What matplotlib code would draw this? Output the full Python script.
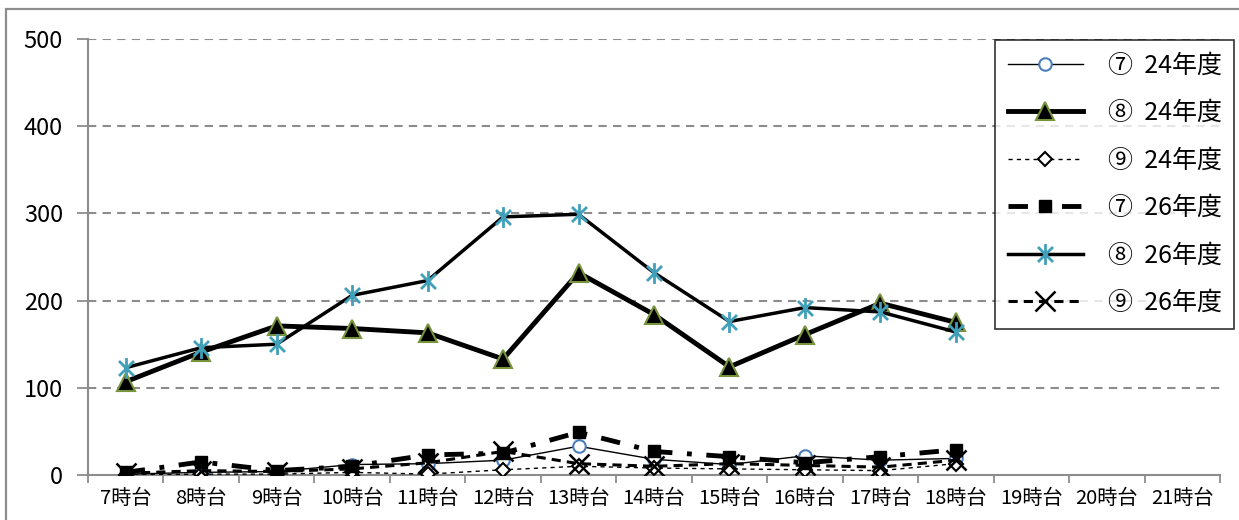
import matplotlib
matplotlib.use("Agg")
import matplotlib.pyplot as plt
from matplotlib.path import Path
from matplotlib.patches import Rectangle
import numpy as np

plt.rcParams['font.family'] = ['Noto Sans CJK JP', 'DejaVu Sans']

categories = ['7時台', '8時台', '9時台', '10時台', '11時台', '12時台', '13時台',
              '14時台', '15時台', '16時台', '17時台', '18時台', '19時台', '20時台', '21時台']

labels = ['⑦  24年度', '⑧  24年度', '⑨  24年度', '⑦  26年度', '⑧  26年度', '⑨  26年度']

s7_24 = [1, 3, 4, 12, 13, 17, 33, 18, 12, 22, 17, 19]
s8_24 = [107, 141, 171, 168, 163, 133, 232, 184, 124, 161, 197, 175]
s9_24 = [0, 1, 1, 3, 1, 6, 10, 8, 7, 6, 5, 13]
s7_26 = [3, 15, 5, 10, 23, 25, 49, 27, 21, 14, 21, 29]
s8_26 = [123, 146, 150, 206, 223, 296, 299, 232, 176, 192, 187, 164]
s9_26 = [2, 5, 4, 7, 14, 27, 13, 10, 13, 11, 9, 17]

y_ticks = [0, 100, 200, 300, 400, 500]

W, H = 1239, 520
fig = plt.figure(figsize=(W / 100, H / 100), dpi=100)
ax = fig.add_axes([88 / W, 1 - 475 / H, (1220 - 88) / W, (475 - 39) / H])

# outer chart-area frame
fig.patches.append(Rectangle((6 / W, -0.2), 1.2, 1.2 - 9 / H, transform=fig.transFigure,
                             fill=False, edgecolor='#8c8c8c', linewidth=1.6, zorder=0))

x = np.arange(len(s7_24))

asterisk = Path([(0, -1), (0, 1), (-0.72, -0.72), (0.72, 0.72), (-0.72, 0.72), (0.72, -0.72)],
                [Path.MOVETO, Path.LINETO, Path.MOVETO, Path.LINETO, Path.MOVETO, Path.LINETO])

ax.plot(x, s7_24, color='black', lw=1.0, marker='o', ms=9, mfc='white', mec='#4A7EBB', mew=1.5,
        label=labels[0], zorder=3)
ax.plot(x, s8_24, color='black', lw=3.5, marker='^', ms=13, mfc='black', mec='#77933C', mew=1.5,
        label=labels[1], zorder=3)
ax.plot(x, s9_24, color='black', lw=1.0, ls=(0, (3, 3)), marker='D', ms=7, mfc='white', mec='black',
        mew=1.5, label=labels[2], zorder=3)
ax.plot(x, s7_26, color='black', lw=3.5, ls=(0, (4, 3, 1, 3)), marker='s', ms=9, mfc='black', mec='black',
        label=labels[3], zorder=3)
ax.plot(x, s8_26, color='black', lw=2.5, marker=asterisk, ms=15, mfc='none', mec='#40A0BA', mew=2.0,
        label=labels[4], zorder=3)
ax.plot(x, s9_26, color='black', lw=2.2, ls=(0, (3, 2)), marker='x', ms=14, mec='black', mew=1.8,
        label=labels[5], zorder=3)

ax.set_xlim(-0.5, len(categories) - 0.5)
ax.set_ylim(0, 500)
ax.set_xticks(np.arange(len(categories)))
ax.set_xticklabels(categories, fontsize=14.5)
ax.set_xticks(np.arange(len(categories) + 1) - 0.5, minor=True)
ax.tick_params(axis='x', which='major', length=0, pad=9)
ax.tick_params(axis='x', which='minor', length=6, width=1.3, color='#8c8c8c', direction='out')
ax.set_yticks(y_ticks)
ax.set_yticklabels([str(v) for v in y_ticks], fontsize=17)
ax.tick_params(axis='y', length=8, width=1.3, color='#8c8c8c', direction='out', pad=10)

for v in y_ticks[1:]:
    ax.axhline(v, color='#8c8c8c', lw=1.5, ls=(0, (4, 3)), zorder=1)

for s in ['top', 'right']:
    ax.spines[s].set_visible(False)
for s in ['left', 'bottom']:
    ax.spines[s].set_color('#8c8c8c')
    ax.spines[s].set_linewidth(1.5)

leg = ax.legend(loc='upper right', bbox_to_anchor=(1234 / W, 1 - 40 / H), bbox_transform=fig.transFigure,
                fontsize=18, frameon=True, fancybox=False, edgecolor='black', handlelength=3.0,
                labelspacing=0.86, borderpad=0.5, handletextpad=1.0, borderaxespad=0)
leg.get_frame().set_linewidth(1.2)

fig.savefig('out.png', dpi=100)
